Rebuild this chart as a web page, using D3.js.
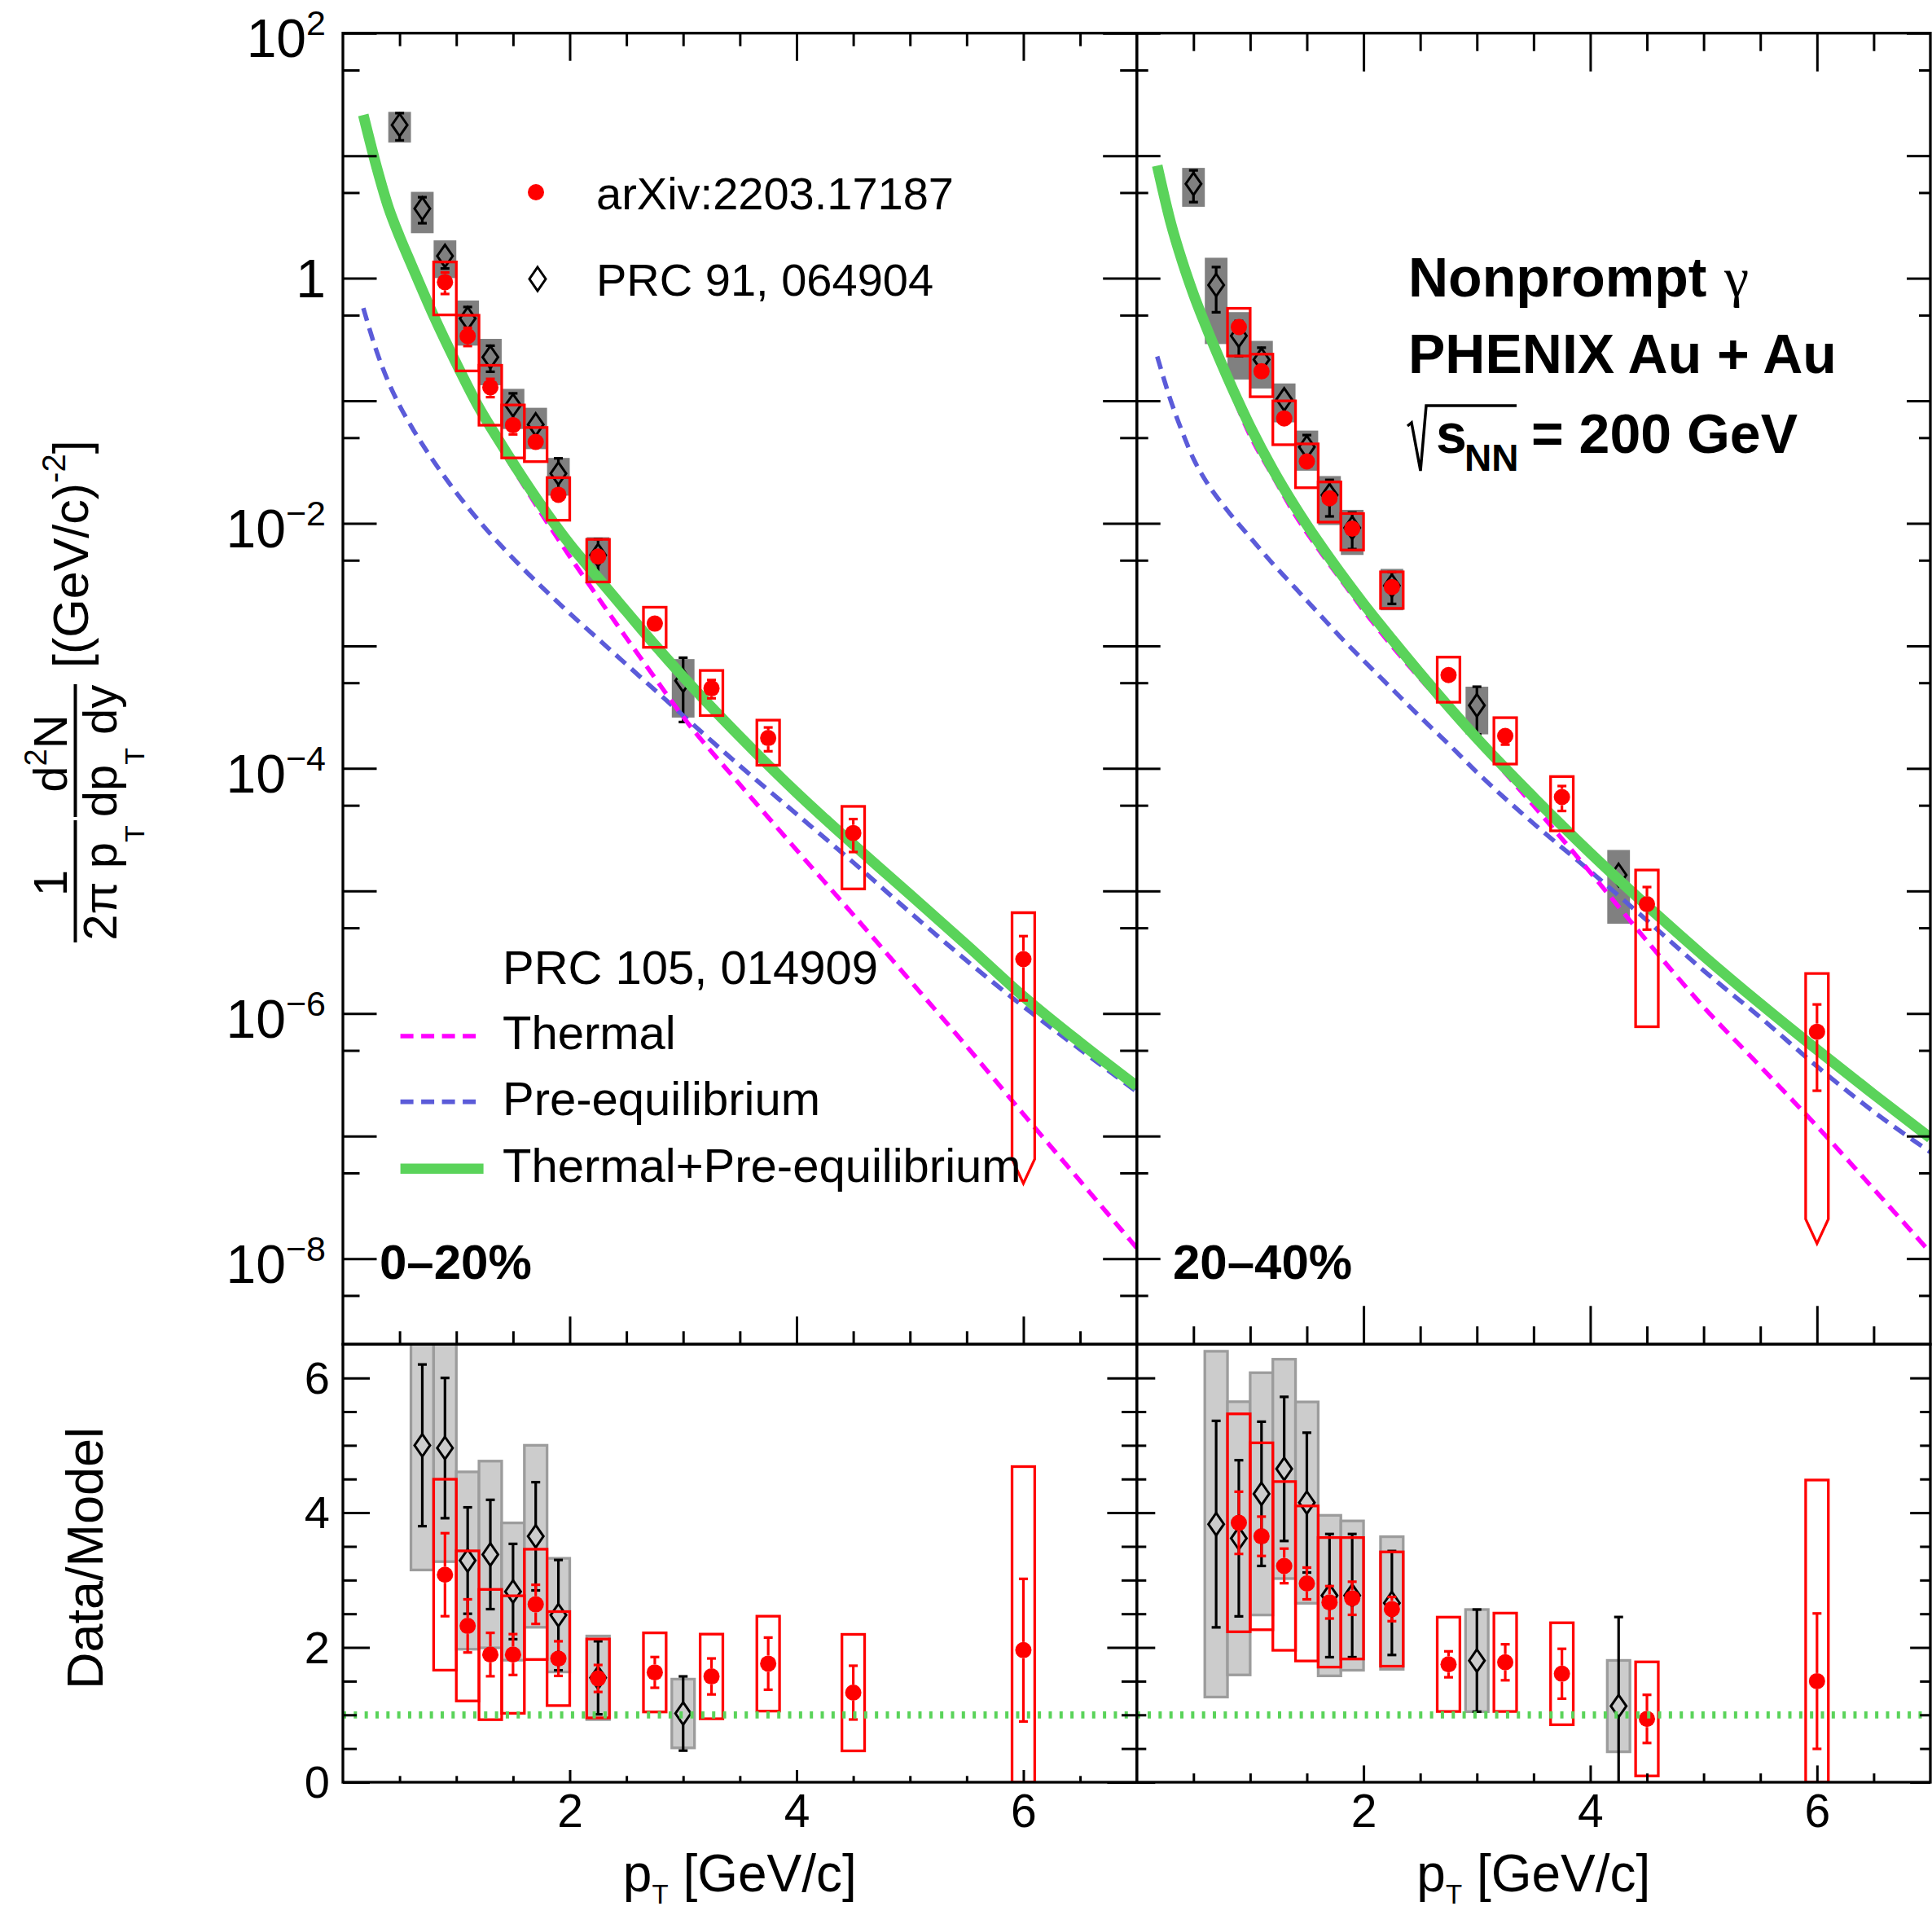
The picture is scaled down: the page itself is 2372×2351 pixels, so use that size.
<!DOCTYPE html>
<html>
<head>
<meta charset="utf-8">
<script src="https://cdn.jsdelivr.net/npm/d3@7"></script>
<style>
  body { margin: 0; background: #fff; }
</style>
</head>
<body>
<div id="vis"></div>
<script>
// ---- model curves, PRC 105, 014909 ----
var curvePt = [0.18, 0.3, 0.4, 0.5, 0.6, 0.8, 1.0, 1.2, 1.4, 1.6, 1.8, 2.0, 2.25, 2.5, 2.75, 3.0, 3.5, 4.0, 4.5, 5.0, 5.5, 6.0, 6.5, 7.0];
var total020 = [21.5, 7.9, 3.82, 2.18, 1.32, 0.494, 0.202, 0.088, 0.0437, 0.0224, 0.0120, 0.00676, 0.00359, 0.00191, 0.00102, 5.6e-4, 1.82e-4, 6.35e-5, 2.4e-5, 9.35e-6, 3.63e-6, 1.38e-6, 5.8e-7, 2.55e-7];
var thermal020 = [21.0, 7.7, 3.68, 2.1, 1.27, 0.457, 0.188, 0.0832, 0.0398, 0.020, 0.0102, 0.00537, 0.00248, 0.00116, 5.5e-4, 2.63e-4, 7.4e-5, 2.16e-5, 6.4e-6, 1.86e-6, 5.4e-7, 1.51e-7, 4.3e-8, 1.22e-8];
var preeq020 = [0.57, 0.249, 0.143, 0.0914, 0.0625, 0.0321, 0.0178, 0.01047, 0.00649, 0.00417, 0.00275, 0.00184, 0.00114, 7.05e-4, 4.37e-4, 2.7e-4, 1.05e-4, 4.24e-5, 1.71e-5, 6.7e-6, 2.7e-6, 1.14e-6, 5.1e-7, 2.3e-7];
var total2040 = [8.3, 2.82, 1.38, 0.741, 0.427, 0.155, 0.0617, 0.0275, 0.0135, 0.00708, 0.00389, 0.00221, 0.001135, 5.96e-4, 3.2e-4, 1.76e-4, 5.82e-5, 2.04e-5, 7.59e-6, 2.95e-6, 1.2e-6, 5.07e-7, 2.19e-7, 9.66e-8];
var thermal2040 = [8.0, 2.7, 1.32, 0.70, 0.413, 0.142, 0.052, 0.0243, 0.0116, 0.0062, 0.00347, 0.00195, 0.001, 5.4e-4, 3.0e-4, 1.67e-4, 4.97e-5, 1.42e-5, 3.9e-6, 1.13e-6, 3.7e-7, 1.2e-7, 3.7e-8, 1.12e-8];
var preeq2040 = [0.23, 0.10, 0.056, 0.0336, 0.0229, 0.0127, 0.00767, 0.00468, 0.00295, 0.00186, 0.00117, 7.6e-4, 4.47e-4, 2.63e-4, 1.58e-4, 9.3e-5, 3.55e-5, 1.45e-5, 5.75e-6, 2.24e-6, 9.3e-7, 3.7e-7, 1.58e-7, 7.4e-8];

// ---- PRC 91, 064904 (open diamonds); stat/sys are relative ----
var prcPt020 = [0.5, 0.7, 0.9, 1.1, 1.3, 1.5, 1.7, 1.9, 2.25, 3.0];
var prcYield020 = [17.8, 3.7, 1.52, 0.47, 0.227, 0.092, 0.064, 0.0255, 0.0055, 5.2e-4];
var prcStat020 = [0.25, 0.24, 0.21, 0.24, 0.24, 0.25, 0.22, 0.33, 0.35, 0.54];
var prcSys020 = [0.28, 0.37, 0.34, 0.40, 0.41, 0.36, 0.37, 0.34, 0.40, 0.50];
var prcRatio020 = [null, 5.0, 4.96, 3.29, 3.38, 2.83, 3.65, 2.48, 1.55, 1.02];

var prcPt2040 = [0.5, 0.7, 0.9, 1.1, 1.3, 1.5, 1.7, 1.9, 2.25, 3.0, 4.25];
var prcYield2040 = [5.89, 0.88, 0.339, 0.217, 0.1026, 0.042, 0.017, 0.0092, 0.0031, 3.27e-4, 1.35e-5];
var prcStat2040 = [0.29, 0.40, 0.32, 0.25, 0.23, 0.25, 0.33, 0.33, 0.29, 0.42, 1.17];
var prcSys2040 = [0.35, 0.67, 0.56, 0.42, 0.35, 0.36, 0.43, 0.40, 0.37, 0.42, 0.60];
var prcRatio2040 = [null, 3.83, 3.62, 4.28, 4.65, 4.15, 2.77, 2.77, 2.66, 1.805, 1.13];

// ---- arXiv:2203.17187 (red dots) ----
var arxPt = [0.9, 1.1, 1.3, 1.5, 1.7, 1.9, 2.25, 2.75, 3.25, 3.75, 4.5, 6.0];
var arxYield020 = [0.93, 0.337, 0.129, 0.0633, 0.0462, 0.0171, 0.00536, 0.00152, 4.5e-4, 1.77e-4, 2.97e-5, 2.78e-6];
var arxStat020 = [0.20, 0.17, 0.17, 0.16, 0.11, 0.14, 0.13, 0.14, 0.17, 0.22, 0.30, 0.54];
var arxSys020 = [0.46, 0.48, 0.51, 0.46, 0.31, 0.38, 0.38, 0.36, 0.40, 0.40, 0.65, 1.39];
var arxRatio020 = [3.08, 2.32, 1.895, 1.895, 2.64, 1.835, 1.54, 1.63, 1.57, 1.76, 1.33, 1.96];
var arxYield2040 = [0.40, 0.174, 0.0718, 0.032, 0.016, 0.00904, 0.00302, 5.78e-4, 1.84e-4, 5.84e-5, 7.8e-6, 7.1e-7];
var arxStat2040 = [0.12, 0.08, 0.08, 0.08, 0.09, 0.09, 0.07, 0.11, 0.15, 0.23, 0.38, 0.67];
var arxSys2040 = [0.42, 0.38, 0.39, 0.39, 0.36, 0.33, 0.33, 0.40, 0.41, 0.47, 0.90, 1.99];
var arxRatio2040 = [3.85, 3.65, 3.21, 2.95, 2.67, 2.73, 2.57, 1.75, 1.78, 1.61, 0.94, 1.5];
// lower end shown for systematic boxes that reach zero (drawn with an arrow)
var arxArrowFloor = [6.5e-8, 2.1e-8];

var centrality = ['0\u201320%', '20\u201340%'];
var yDecades = [1e-8, 1e-7, 1e-6, 1e-5, 1e-4, 1e-3, 1e-2, 1e-1, 1, 10, 100];
var yHalves = [5e-9, 5e-8, 5e-7, 5e-6, 5e-5, 5e-4, 5e-3, 5e-2, 0.5, 5, 50];
var xMajor = [2, 4, 6];
var xMinor = [0.5, 1, 1.5, 2.5, 3, 3.5, 4.5, 5, 5.5, 6.5];
var rMajor = [0, 2, 4, 6];
var rMinor = [0.5, 1, 1.5, 2.5, 3, 3.5, 4.5, 5, 5.5];

var W = 2372, H = 2351;
var FONT = '"Liberation Sans", Arial, Helvetica, sans-serif';
var RED = '#ff0000', MAGENTA = '#ff00ff', BLUE = '#5b5bd9', GREEN = '#5ad35a';
var yTop = 40.7, yMid = 1650.3, yBot = 2188;

var svg = d3.select('#vis').append('svg')
  .attr('width', W)
  .attr('height', H)
  .style('background', '#fff');
var defs = svg.append('defs');

var yMain = d3.scaleLog().domain([2e-9, 100]).range([yMid, yTop]);
var yRatio = d3.scaleLinear().domain([0, 6.5]).range([yBot, yMid]);

function build(pt, val, stat, sys, ratio) {
  return pt.map(function(p, i) {
    return { pt: p, val: val[i], stat: stat[i], sys: sys[i], ratio: ratio[i] };
  });
}

var panels = [
  { x0: 421, x1: 1395.7, label: centrality[0], labelX: 466, labels: true,
    curves: [preeq020, thermal020, total020],
    prc: build(prcPt020, prcYield020, prcStat020, prcSys020, prcRatio020),
    arx: build(arxPt, arxYield020, arxStat020, arxSys020, arxRatio020),
    floor: arxArrowFloor[0],
    tick: { x: [34, 16], y: [41.5, 20.5], rx: [15, 7.7], ry: [33, 17] } },
  { x0: 1395.7, x1: 2370, label: centrality[1], labelX: 1440, labels: false,
    curves: [preeq2040, thermal2040, total2040],
    prc: build(prcPt2040, prcYield2040, prcStat2040, prcSys2040, prcRatio2040),
    arx: build(arxPt, arxYield2040, arxStat2040, arxSys2040, arxRatio2040),
    floor: arxArrowFloor[1],
    tick: { x: [47, 22], y: [29, 14], rx: [20.6, 10.8], ry: [22.6, 11.6] } }
];

function axisGroup(axisFn, scale, values, len, transform, fmt, pad) {
  var a = axisFn(scale)
    .tickValues(values)
    .tickSizeInner(-len)
    .tickSizeOuter(0)
    .tickPadding(pad || 0)
    .tickFormat(fmt || function() { return ''; });
  var g = svg.append('g').attr('transform', transform).call(a);
  g.select('.domain').remove();
  g.selectAll('.tick line').attr('stroke', '#000').attr('stroke-width', 3);
  g.attr('font-family', FONT);
  return g;
}

function diamond(hw, hh) {
  return 'M0,' + (-hh) + 'L' + hw + ',0L0,' + hh + 'L' + (-hw) + ',0Z';
}

function drawBoxes(g, pts, x, yS, key, fill, stroke, floor) {
  var w = x(0.1) - x(0);
  pts.forEach(function(d) {
    var v = d[key];
    if (v == null) return;
    var cx = x(d.pt), hi = v * (1 + d.sys), lo = v * (1 - d.sys);
    var yHi = yS(hi);
    if (lo <= 0 && yS === yMain) {
      var yLo = yS(floor);
      g.append('path')
        .attr('d', 'M' + (cx - w) + ',' + yHi + 'H' + (cx + w) + 'V' + yLo +
          'L' + cx + ',' + (yLo + 30) + 'L' + (cx - w) + ',' + yLo + 'Z')
        .attr('fill', 'none').attr('stroke', stroke).attr('stroke-width', 3.3);
    } else {
      var yl = yS(Math.max(lo, yS === yMain ? 1e-12 : 0));
      g.append('rect')
        .attr('x', cx - w).attr('width', 2 * w)
        .attr('y', yHi).attr('height', yl - yHi)
        .attr('fill', fill)
        .attr('stroke', stroke || 'none')
        .attr('stroke-width', 3.3);
    }
  });
}

function drawBars(g, pts, x, yS, key, color, gap) {
  pts.forEach(function(d) {
    var v = d[key];
    if (v == null) return;
    var lo = v * (1 - d.stat), hi = v * (1 + d.stat);
    if (yS === yMain && lo <= 0) return;
    var cx = x(d.pt), yv = yS(v), yh = yS(hi), yl = yS(lo);
    var segs = [];
    if (yv - gap > yh) segs.push([yh, yv - gap, yh]);
    if (yv + gap < yl) segs.push([yv + gap, yl, yl]);
    segs.forEach(function(s) {
      g.append('line').attr('x1', cx).attr('x2', cx).attr('y1', s[0]).attr('y2', s[1])
        .attr('stroke', color).attr('stroke-width', 3.2);
      g.append('line').attr('x1', cx - 5.5).attr('x2', cx + 5.5).attr('y1', s[2]).attr('y2', s[2])
        .attr('stroke', color).attr('stroke-width', 3.2);
    });
  });
}

function drawDiamonds(g, pts, x, yS, key) {
  g.selectAll(null)
    .data(pts.filter(function(d) { return d[key] != null; }))
    .enter().append('path')
    .attr('d', diamond(9.5, 13.7))
    .attr('transform', function(d) { return 'translate(' + x(d.pt) + ',' + yS(d[key]) + ')'; })
    .attr('fill', 'none').attr('stroke', '#000').attr('stroke-width', 3);
}

function drawDots(g, pts, x, yS, key) {
  g.selectAll(null)
    .data(pts.filter(function(d) { return d[key] != null; }))
    .enter().append('circle')
    .attr('cx', function(d) { return x(d.pt); })
    .attr('cy', function(d) { return yS(d[key]); })
    .attr('r', 10)
    .attr('fill', RED);
}

panels.forEach(function(P, k) {
  var x = d3.scaleLinear().domain([0, 7]).range([P.x0, P.x1]);

  // clip areas
  defs.append('clipPath').attr('id', 'clipTop' + k).append('rect')
    .attr('x', P.x0).attr('y', yTop).attr('width', P.x1 - P.x0).attr('height', yMid - yTop);
  defs.append('clipPath').attr('id', 'clipBot' + k).append('rect')
    .attr('x', P.x0).attr('y', yMid).attr('width', P.x1 - P.x0).attr('height', yBot - yMid);

  // ---------- upper pad ----------
  var gTop = svg.append('g').attr('clip-path', 'url(#clipTop' + k + ')');

  // PRC 91 data sits under the model curves
  drawBoxes(gTop, P.prc, x, yMain, 'val', '#808080', null, P.floor);
  drawBars(gTop, P.prc, x, yMain, 'val', '#000', 13.7);
  drawDiamonds(gTop, P.prc, x, yMain, 'val');

  var line = d3.line()
    .x(function(d) { return x(d[0]); })
    .y(function(d) { return yMain(d[1]); })
    .curve(d3.curveMonotoneX);

  gTop.append('path').datum(d3.zip(curvePt, P.curves[0])).attr('d', line)
    .attr('fill', 'none').attr('stroke', BLUE).attr('stroke-width', 5.5).attr('stroke-dasharray', '16 9.5');
  gTop.append('path').datum(d3.zip(curvePt, P.curves[1])).attr('d', line)
    .attr('fill', 'none').attr('stroke', MAGENTA).attr('stroke-width', 5.5).attr('stroke-dasharray', '16 9.5');
  gTop.append('path').datum(d3.zip(curvePt, P.curves[2])).attr('d', line)
    .attr('fill', 'none').attr('stroke', GREEN).attr('stroke-width', 13);

  drawBoxes(gTop, P.arx, x, yMain, 'val', 'none', RED, P.floor);
  drawBars(gTop, P.arx, x, yMain, 'val', RED, 10);
  drawDots(gTop, P.arx, x, yMain, 'val');

  // ---------- ratio pad ----------
  var gBot = svg.append('g').attr('clip-path', 'url(#clipBot' + k + ')');
  drawBoxes(gBot, P.prc, x, yRatio, 'ratio', '#cccccc', '#9c9c9c', 0);
  drawBars(gBot, P.prc, x, yRatio, 'ratio', '#000', 13.7);
  drawDiamonds(gBot, P.prc, x, yRatio, 'ratio');
  drawBoxes(gBot, P.arx, x, yRatio, 'ratio', 'none', RED, 0);
  drawBars(gBot, P.arx, x, yRatio, 'ratio', RED, 10);
  drawDots(gBot, P.arx, x, yRatio, 'ratio');
  gBot.append('line')
    .attr('x1', P.x0).attr('x2', P.x1)
    .attr('y1', yRatio(1)).attr('y2', yRatio(1))
    .attr('stroke', GREEN).attr('stroke-width', 8.7).attr('stroke-dasharray', '4 9.33');

  // ---------- axes / ticks ----------
  var t = P.tick;
  axisGroup(d3.axisTop, x, xMajor, t.x[0], 'translate(0,' + yTop + ')');
  axisGroup(d3.axisTop, x, xMinor, t.x[1], 'translate(0,' + yTop + ')');
  axisGroup(d3.axisBottom, x, xMajor, t.x[0], 'translate(0,' + yMid + ')');
  axisGroup(d3.axisBottom, x, xMinor, t.x[1], 'translate(0,' + yMid + ')');

  var gy = axisGroup(d3.axisLeft, yMain, yDecades, t.y[0], 'translate(' + P.x0 + ',0)',
    P.labels ? function(d) { return String(Math.round(Math.log10(d))); } : null, 21);
  axisGroup(d3.axisLeft, yMain, yHalves, t.y[1], 'translate(' + P.x0 + ',0)');
  axisGroup(d3.axisRight, yMain, yDecades, t.y[0], 'translate(' + P.x1 + ',0)');
  axisGroup(d3.axisRight, yMain, yHalves, t.y[1], 'translate(' + P.x1 + ',0)');

  if (P.labels) {
    gy.attr('font-size', 66);
    gy.selectAll('.tick text').each(function(d) {
      var e = Math.round(Math.log10(d));
      var s = d3.select(this).text(null).attr('fill', '#000');
      if (e % 2 !== 0) return;
      if (e === 0) { s.attr('dy', '0.35em').text('1'); return; }
      s.attr('dy', '0.44em');
      s.append('tspan').text('10');
      s.append('tspan').attr('font-size', 43).attr('dy', -27)
        .text(e < 0 ? '\u2212' + (-e) : String(e));
    });
  }

  // ratio pad axes
  var gx = axisGroup(d3.axisBottom, x, xMajor, t.rx[0], 'translate(0,' + yBot + ')',
    function(d) { return String(d); }, 15);
  gx.attr('font-size', 57).selectAll('.tick text').attr('fill', '#000');
  axisGroup(d3.axisBottom, x, xMinor, t.rx[1], 'translate(0,' + yBot + ')');

  var gr = axisGroup(d3.axisLeft, yRatio, rMajor, t.ry[0], 'translate(' + P.x0 + ',0)',
    P.labels ? function(d) { return String(d); } : null, 16);
  gr.attr('font-size', 56).selectAll('.tick text').attr('fill', '#000').attr('dy', '0.33em');
  axisGroup(d3.axisLeft, yRatio, rMinor, t.ry[1], 'translate(' + P.x0 + ',0)');
  axisGroup(d3.axisRight, yRatio, rMajor, t.ry[0] * 1.1, 'translate(' + P.x1 + ',0)');
  axisGroup(d3.axisRight, yRatio, rMinor, t.ry[1] * 1.1, 'translate(' + P.x1 + ',0)');

  // frames
  [[yTop, yMid], [yMid, yBot]].forEach(function(r) {
    svg.append('rect')
      .attr('x', P.x0).attr('y', r[0])
      .attr('width', P.x1 - P.x0).attr('height', r[1] - r[0])
      .attr('fill', 'none').attr('stroke', '#000').attr('stroke-width', 3.3);
  });

  // centrality label
  svg.append('text')
    .attr('x', P.labelX).attr('y', 1569.6)
    .attr('font-family', FONT).attr('font-weight', 'bold').attr('font-size', 60)
    .text(P.label);

  // x axis title
  var xt = svg.append('text')
    .attr('x', (P.x0 + P.x1) / 2).attr('y', 2322)
    .attr('text-anchor', 'middle')
    .attr('font-family', FONT).attr('font-size', 64);
  xt.append('tspan').text('p');
  xt.append('tspan').attr('font-size', 33).attr('dy', 15).text('T');
  xt.append('tspan').attr('dy', -15).text(' [GeV/c]');
});

// ---------- legends ----------
var leg = svg.append('g').attr('font-family', FONT);
leg.append('circle').attr('cx', 658).attr('cy', 236).attr('r', 10).attr('fill', RED);
leg.append('text').attr('x', 732).attr('y', 256.7).attr('font-size', 56).text('arXiv:2203.17187');
leg.append('path').attr('d', diamond(10, 14.5)).attr('transform', 'translate(660,342.5)')
  .attr('fill', 'none').attr('stroke', '#000').attr('stroke-width', 3);
leg.append('text').attr('x', 732).attr('y', 363.3).attr('font-size', 56).text('PRC 91, 064904');

leg.append('text').attr('x', 617).attr('y', 1208).attr('font-size', 58).text('PRC 105, 014909');
var modelLeg = [
  { name: 'Thermal', color: MAGENTA, width: 5.7, dash: '16 9.5', y: 1288, x2: 585.4 },
  { name: 'Pre-equilibrium', color: BLUE, width: 5.7, dash: '16 9.5', y: 1368.6, x2: 585.4 },
  { name: 'Thermal+Pre-equilibrium', color: GREEN, width: 12.5, dash: null, y: 1450.7, x2: 593.6 }
];
modelLeg.forEach(function(m) {
  leg.append('line')
    .attr('x1', 491.6).attr('x2', m.x2)
    .attr('y1', m.y - 16).attr('y2', m.y - 16)
    .attr('stroke', m.color).attr('stroke-width', m.width)
    .attr('stroke-dasharray', m.dash);
  leg.append('text').attr('x', 617).attr('y', m.y).attr('font-size', 58).text(m.name);
});

// ---------- annotation (right panel) ----------
var ann = svg.append('g').attr('font-family', FONT).attr('font-weight', 'bold').attr('font-size', 68);
ann.append('text').attr('x', 1729).attr('y', 363.8).text('Nonprompt');
ann.append('text').attr('x', 2117).attr('y', 363.8)
  .attr('font-family', '"Liberation Serif", "DejaVu Serif", serif').attr('font-weight', 'normal')
  .text('\u03b3');
ann.append('text').attr('x', 1729).attr('y', 457.6).text('PHENIX Au + Au');
ann.append('path')
  .attr('d', 'M1728,523 L1733,519 L1744,578 L1751,498 L1862,498')
  .attr('fill', 'none').attr('stroke', '#000').attr('stroke-width', 3.5);
ann.append('text').attr('x', 1763).attr('y', 555.8).text('s');
ann.append('text').attr('x', 1798).attr('y', 578).attr('font-size', 46).text('NN');
ann.append('text').attr('x', 1880).attr('y', 555.8).text('= 200 GeV');

// ---------- y axis titles ----------
var yt = svg.append('g')
  .attr('transform', 'translate(92.5,998) rotate(-90)')
  .attr('font-family', FONT);
yt.append('line').attr('x1', -159).attr('x2', -9).attr('y1', 0).attr('y2', 0)
  .attr('stroke', '#000').attr('stroke-width', 4);
yt.append('line').attr('x1', -5).attr('x2', 158).attr('y1', 0).attr('y2', 0)
  .attr('stroke', '#000').attr('stroke-width', 4);
yt.append('text').attr('x', -86).attr('y', -11).attr('text-anchor', 'middle')
  .attr('font-size', 58).text('1');
var den1 = yt.append('text').attr('x', -86).attr('y', 50).attr('text-anchor', 'middle').attr('font-size', 58);
den1.append('tspan').text('2\u03c0 p');
den1.append('tspan').attr('font-size', 34).attr('dy', 34).text('T');
var num2 = yt.append('text').attr('x', 73).attr('y', -11).attr('text-anchor', 'middle').attr('font-size', 58);
num2.append('tspan').text('d');
num2.append('tspan').attr('font-size', 38).attr('dy', -25).text('2');
num2.append('tspan').attr('dy', 25).text('N');
var den2 = yt.append('text').attr('x', 76).attr('y', 50).attr('text-anchor', 'middle').attr('font-size', 58);
den2.append('tspan').text('dp');
den2.append('tspan').attr('font-size', 34).attr('dy', 34).text('T');
den2.append('tspan').attr('dy', -34).text(' dy');
var units = yt.append('text').attr('x', 178).attr('y', 15.5).attr('font-size', 61);
units.append('tspan').text('[(GeV/c)');
units.append('tspan').attr('font-size', 40).attr('dy', -28).text('-2');
units.append('tspan').attr('dy', 28).text(']');

svg.append('text')
  .attr('transform', 'translate(126,1913) rotate(-90)')
  .attr('text-anchor', 'middle')
  .attr('font-family', FONT).attr('font-size', 63)
  .text('Data/Model');
</script>
</body>
</html>
